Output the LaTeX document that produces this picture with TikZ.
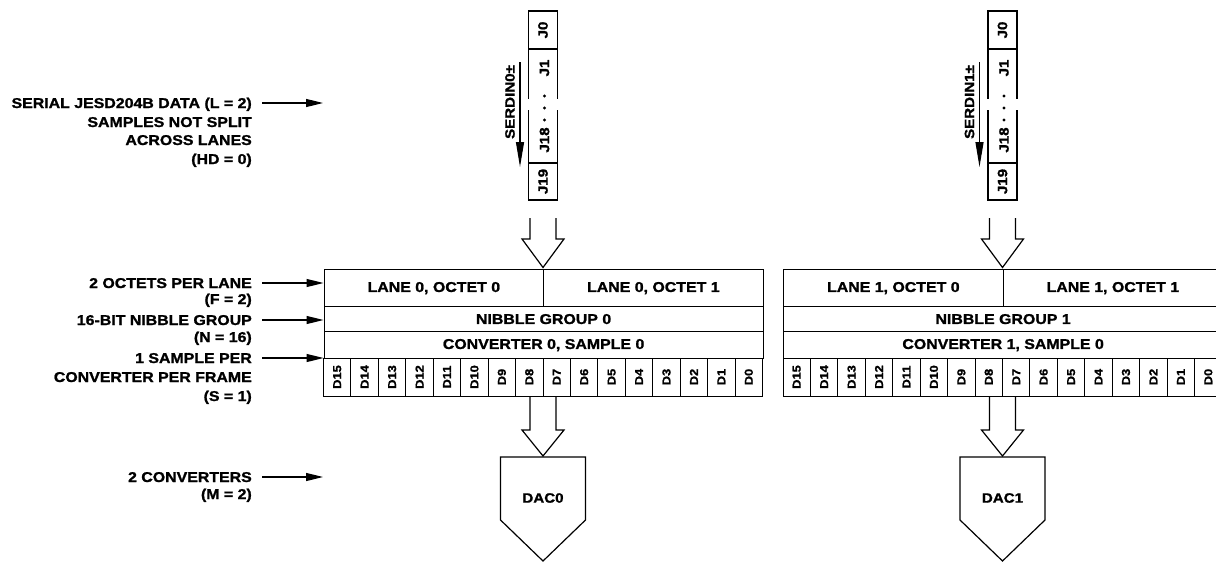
\documentclass[tikz,border=0pt]{standalone}
\usepackage{fontspec}
\setmainfont{Liberation Sans}[FakeStretch=1.12, BoldFeatures={FakeBold=1.3}]
\usetikzlibrary{arrows.meta}
\newcommand\dactable[2]{% #1 center x, #2 index
  \node[cellrow, minimum width=219.5pt, minimum height=37pt] (oA#2) at (#1-219.5,269) {LANE #2, OCTET 0};
  \node[cellrow, minimum width=219.5pt, minimum height=37pt] (oB#2) at (#1,269) {LANE #2, OCTET 1};
  \node[cellrow, minimum width=439pt, minimum height=25pt] (nib#2) at (#1-219.5,306) {NIBBLE GROUP #2};
  \node[cellrow, minimum width=439pt, minimum height=27pt] (cnv#2) at (#1-219.5,331) {CONVERTER #2, SAMPLE 0};
  \foreach \i in {0,...,15}{%
    \pgfmathtruncatemacro\b{15-\i}%
    \node[dcell] (d#2-\b) at ({#1-219.5+(\i+0.5)*27.4375},377) {D\b};
  }
}
\newcommand\serlane[2]{% #1 center x, #2 index
  \node[jbox, minimum width=38pt] (jA#2) at (#1,30) {J0};
  \node[jbox, minimum width=37pt] (jD#2) at (#1,181.5) {J19};
  \node[jtxt] (jB#2) at (#1+1.5,68) {J1};
  \node[jtxt] (jC#2) at (#1+1.5,140) {J18};
  \draw[frame] (#1-14.5,49) -- (#1-14.5,99) (#1+14.5,49) -- (#1+14.5,99)
               (#1-14.5,110) -- (#1-14.5,163) (#1+14.5,110) -- (#1+14.5,163);
  \foreach \yy in {96,108,120}{\fill (#1+1.5,\yy) circle (1.7pt);}
  \coordinate (sa#2) at (#1-23,62);
  \coordinate (sb#2) at (#1-23,167);
  \draw[serarr] (sa#2) -- (sb#2);
  \node[jtxt] (ser#2) at (#1-33,102) {SERDIN#2±};
  % hollow arrow lane -> table
  \draw[frame] (#1-13,218) -- (#1-13,239) -- (#1-21,239) -- (#1,267.5) -- (#1+21,239) -- (#1+13,239) -- (#1+13,218);
  % hollow arrow table -> DAC
  \draw[frame] (#1-13,396) -- (#1-13,430) -- (#1-21,430) -- (#1,456) -- (#1+21,430) -- (#1+13,430) -- (#1+13,396);
  % DAC block
  \draw[frame] (#1-42.5,457) -- (#1+42.5,457) -- (#1+42.5,520) -- (#1,561) -- (#1-42.5,520) -- cycle;
  \node[dactxt] (dac#2) at (#1,498) {DAC#2};
}
\begin{document}
\begin{tikzpicture}[x=1pt,y=-1pt,
  txt/.style={font=\bfseries\fontsize{14.2}{16}\selectfont},
  lbl/.style={txt, anchor=base east, inner sep=0pt},
  arr/.style={line width=1.2pt, -{Triangle[length=17pt,width=8pt]}},
  serarr/.style={line width=1.2pt, -{Triangle[length=25pt,width=8pt]}},
  frame/.style={line width=1.2pt},
  cellrow/.style={draw, line width=1.2pt, txt, inner sep=0pt, anchor=north west},
  dcell/.style={draw, line width=0.9pt, font=\bfseries\fontsize{11.5}{13}\selectfont, rotate=90,
                minimum width=38pt, minimum height=27.4375pt, inner sep=0pt},
  jbox/.style={draw, line width=1.2pt, rotate=90, minimum height=29pt, inner sep=0pt,
               font=\bfseries\fontsize{13.5}{15}\selectfont},
  jtxt/.style={rotate=90, inner sep=0pt, font=\bfseries\fontsize{13.5}{15}\selectfont},
  dactxt/.style={inner sep=0pt, font=\bfseries\fontsize{13.5}{15}\selectfont}
]
\useasboundingbox (0,0) rectangle (1216,562);
\clip (0,0) rectangle (1216,562);

\dactable{543}{0}
\dactable{1002.5}{1}
\serlane{543}{0}
\serlane{1002.5}{1}

% left labels
\node[lbl] (l1a) at (252,108) {SERIAL JESD204B DATA (L = 2)};
\node[lbl] (l1b) at (252,127) {SAMPLES NOT SPLIT};
\node[lbl] (l1c) at (252,145) {ACROSS LANES};
\node[lbl] (l1d) at (252,164) {(HD = 0)};

\node[lbl] (l2a) at (252,288) {2 OCTETS PER LANE};
\node[lbl] (l2b) at (252,304) {(F = 2)};
\node[lbl] (l3a) at (252,325) {16-BIT NIBBLE GROUP};
\node[lbl] (l3b) at (252,342) {(N = 16)};
\node[lbl] (l4a) at (252,363) {1 SAMPLE PER};
\node[lbl] (l4b) at (252,382) {CONVERTER PER FRAME};
\node[lbl] (l4c) at (252,401) {(S = 1)};

\node[lbl] (l5a) at (252,482) {2 CONVERTERS};
\node[lbl] (l5b) at (252,499) {(M = 2)};

% arrows from labels
\coordinate (a1) at (262,103);
\coordinate (e1) at (323,103);
\draw[arr] (a1) -- (e1);
\coordinate (a2) at (262,283);
\draw[arr] (a2) -- (a2 -| oA0.west);
\coordinate (a3) at (262,320);
\draw[arr] (a3) -- (a3 -| nib0.west);
\coordinate (a4) at (262,358);
\draw[arr] (a4) -- (a4 -| cnv0.west);
\coordinate (a5) at (262,477);
\coordinate (e5) at (323,477);
\draw[arr] (a5) -- (e5);
\end{tikzpicture}
\end{document}
